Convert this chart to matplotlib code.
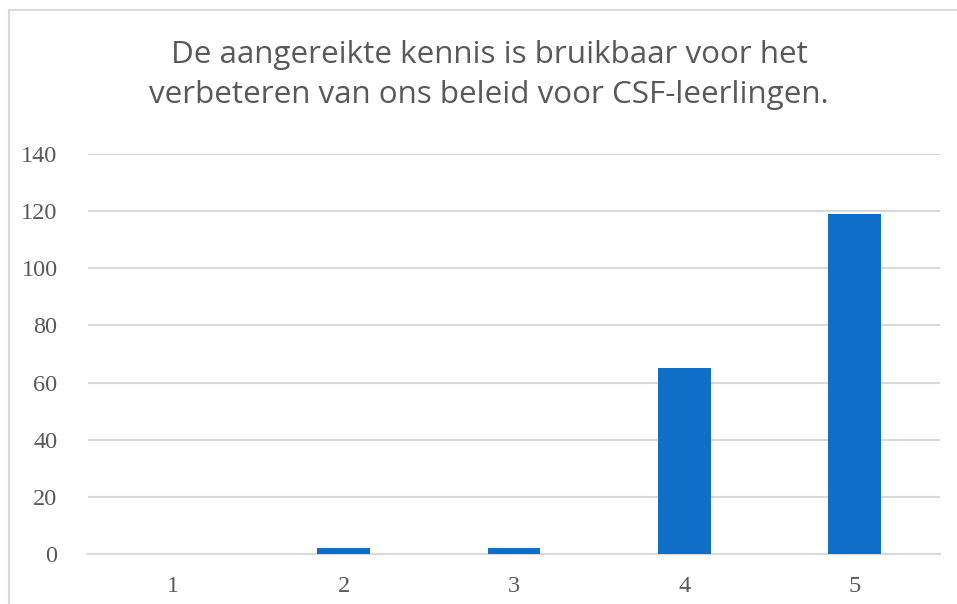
import matplotlib.pyplot as plt
from matplotlib.patches import Rectangle

# Data
categories = ["1", "2", "3", "4", "5"]
counts = [0, 2, 2, 65, 119]
y_ticks = [0, 20, 40, 60, 80, 100, 120, 140]

title = "De aangereikte kennis is bruikbaar voor het\nverbeteren van ons beleid voor CSF-leerlingen."

fig = plt.figure(figsize=(9.57, 6.04), dpi=100)
ax = fig.add_axes([0.092, 0.0828, 0.890, 0.6622])

# Chart border (Excel-style frame, cut off at right/bottom)
fig.patches.append(Rectangle((9 / 957, -0.1), 1.2, (604 - 10) / 604 + 0.1,
                             transform=fig.transFigure, fill=False,
                             edgecolor="#d9d9d9", linewidth=1.5))

x = range(1, len(categories) + 1)
ax.bar(x, counts, width=0.31, color="#0F6FC6", zorder=3)

ax.set_xlim(0.5, 5.5)
ax.set_ylim(0, 140)
ax.set_yticks(y_ticks)
ax.set_xticks(list(x))
ax.set_xticklabels(categories)

ax.grid(axis="y", color="#d9d9d9", linewidth=1.5, zorder=0)
for s in ["top", "right", "left"]:
    ax.spines[s].set_visible(False)
ax.spines["bottom"].set_color("#d9d9d9")
ax.spines["bottom"].set_linewidth(1.5)
ax.tick_params(length=0, labelsize=17.5, labelcolor="#595959")
for lbl in ax.get_xticklabels() + ax.get_yticklabels():
    lbl.set_family("Liberation Serif")
ax.tick_params(axis="x", pad=16)
ax.tick_params(axis="y", pad=22)

fig.text(489 / 957, 1 - 40 / 604, title, ha="center", va="top", fontsize=22.6,
         color="#595959", family="Open Sans", linespacing=1.42)

plt.savefig("out.png", dpi=100)
